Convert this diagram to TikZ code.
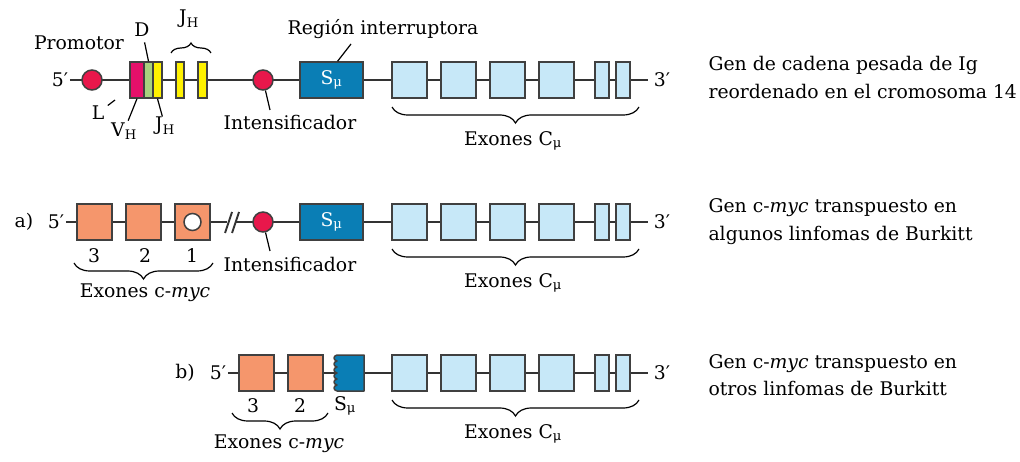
\documentclass[tikz,border=0pt]{standalone}
\usepackage{fontspec}
\setmainfont{DejaVu Serif}
\usetikzlibrary{decorations.pathreplacing}

\definecolor{promred}{HTML}{E8174B}
\definecolor{vhpink}{HTML}{E5106A}
\definecolor{dgreen}{HTML}{A8D17E}
\definecolor{jyellow}{HTML}{FFF200}
\definecolor{sblue}{HTML}{0A7EB5}
\definecolor{cblue}{HTML}{C7E8F8}
\definecolor{mycorange}{HTML}{F5966C}

\begin{document}
\begin{tikzpicture}[x=1pt,y=-1pt,
        font=\fontsize{18.8}{22}\selectfont,
        backbone/.style={line width=1.9pt,draw=black!80},
        gbox/.style={rectangle,draw=black!75,line width=1.5pt,inner sep=0pt,minimum height=36pt},
        cexon/.style={gbox,fill=cblue,minimum width=35pt},
        mexon/.style={gbox,fill=mycorange,minimum width=35pt},
        sbox/.style={gbox,fill=sblue,text=white,minimum width=63pt},
        bead/.style={circle,draw=black!75,line width=1.5pt,fill=promred,minimum size=20pt,inner sep=0pt},
        lead/.style={line width=1.2pt},
        brc/.style={decorate,line width=1.2pt,decoration={brace,amplitude=#1}},
        endlab/.style={inner sep=1.5pt}]
    \useasboundingbox (0,0) rectangle (1020,462);

    % reordenado
    \node[endlab] (p5a) at (60,80) {5′};
    \node[endlab,inner sep=6pt] (p3a) at (662,80) {3′};
    \draw[backbone] (p5a) -- (p3a);
    \node[bead] (prom) at (92,80) {};
    \node[gbox,fill=vhpink,minimum width=14pt] (vh) at (137,80) {};
    \node[gbox,fill=dgreen,minimum width=9pt] (dseg) at (148.5,80) {};
    \node[gbox,fill=jyellow,minimum width=9pt] (jh1) at (157.5,80) {};
    \node[gbox,fill=jyellow,minimum width=8pt] (jh2) at (180,80) {};
    \node[gbox,fill=jyellow,minimum width=9pt] (jh3) at (202.5,80) {};
    \node[bead] (enh1) at (263,80) {};
    \node[sbox] (smu1) at (331.5,80) {S\textsubscript{μ}};

    \node (promlab) at (79,43) {Promotor};
    \node (dlab) at (142,30) {D};
    \node (jhtop) at (189,19) {J\textsubscript{H}};
    \node (llab) at (98,113) {L};
    \node (vhlab) at (124,131) {V\textsubscript{H}};
    \node (jhlab) at (165,126) {J\textsubscript{H}};
    \node (intens1) at (290,122) {Intensificador};
    \node (reglab) at (383,29) {Región interruptora};

    \coordinate (lend) at (115,100);
    \coordinate (enh1e) at (270,110);
    \coordinate (regend) at (351,44);
    \coordinate (jbl) at (171,53);
    \coordinate (jbr) at (211,53);
    \draw[lead,shorten <=2pt] (dlab) -- (dseg.north);
    \draw[lead] (llab) -- (lend);
    \draw[lead,shorten <=-2pt] (vhlab) -- (vh.south);
    \draw[lead,shorten <=-3pt] (jhlab) -- (jh1.south);
    \draw[lead] (enh1) -- (enh1e);
    \draw[lead] (smu1.72) -- (regend);
    \draw[brc=10] (jbl) -- (jbr);

    \node[anchor=base west] (gen1a) at (705,71) {Gen de cadena pesada de Ig};
    \node[anchor=base west] (gen1b) at (705,99) {reordenado en el cromosoma 14};

    % translocacion a)
    \node (rowa) at (24,222) {a)};
    \node[endlab] (p5b) at (56,222) {5′};
    \node[endlab,inner sep=6pt] (p3b) at (662,222) {3′};
    \coordinate (brk1) at (227,222);
    \coordinate (brk2) at (236,222);
    \draw[backbone] (p5b) -- (brk1);
    \draw[backbone] (brk2) -- (p3b);
    \draw[backbone] (brk1) ++(-2,11) -- ++(7,-21);
    \draw[backbone] (brk2) ++(-4,11) -- ++(7,-21);
    \node[mexon] (myc3a) at (94.5,222) {};
    \node[mexon] (myc2a) at (143.5,222) {};
    \node[mexon] (myc1a) at (192.5,222) {};
    \node[circle,draw=black!75,line width=1.5pt,fill=white,minimum size=17pt,inner sep=0pt] (myc1w) at (192.5,222) {};
    \node[bead] (enh2) at (263,222) {};
    \node[sbox] (smu2) at (331.5,222) {S\textsubscript{μ}};

    \node (n3a) at (94,256) {3};
    \node (n2a) at (145,256) {2};
    \node (n1a) at (192,256) {1};
    \node (intens2) at (290,264) {Intensificador};
    \coordinate (enh2e) at (270,251);
    \draw[lead] (enh2) -- (enh2e);
    \coordinate (mbla) at (74,263);
    \coordinate (mbra) at (213,263);
    \draw[brc=16,decoration={mirror}] (mbla) -- (mbra);
    \node (myclaba) at (145,293) {Exones c-\textit{myc}};

    \node[anchor=base west] (gen2a) at (705,213) {Gen c-\textit{myc} transpuesto en};
    \node[anchor=base west] (gen2b) at (705,241) {algunos linfomas de Burkitt};

    % translocacion b)
    \node (rowb) at (185,373) {b)};
    \node[endlab] (p5c) at (218,373) {5′};
    \node[endlab,inner sep=6pt] (p3c) at (662,373) {3′};
    \draw[backbone] (p5c) -- (p3c);
    \node[mexon] (myc3b) at (256.5,373) {};
    \node[mexon] (myc2b) at (305.5,373) {};
    \filldraw[fill=sblue,draw=black!75,line width=1.5pt,line join=round]
        (364,355) -- (364,391) -- (337,391)
        \foreach \k in {0,...,5} { .. controls (333,{390-6*\k}) and (333,{386-6*\k}) .. (337,{385-6*\k}) }
        -- cycle;
    \node (n3b) at (253,406) {3};
    \node (n2b) at (300,406) {2};
    \node (smulab) at (345,406) {S\textsubscript{μ}};
    \coordinate (mblb) at (232,413);
    \coordinate (mbrb) at (328,413);
    \draw[brc=16,decoration={mirror}] (mblb) -- (mbrb);
    \node (myclabb) at (279,444) {Exones c-\textit{myc}};

    \node[anchor=base west] (gen3a) at (705,368) {Gen c-\textit{myc} transpuesto en};
    \node[anchor=base west] (gen3b) at (705,395) {otros linfomas de Burkitt};

    % exones C mu
    \foreach \r/\y in {1/80,2/222,3/373} {
        \node[cexon] (c\r a) at (409.5,\y) {};
        \node[cexon] (c\r b) at (458.5,\y) {};
        \node[cexon] (c\r c) at (507.5,\y) {};
        \node[cexon] (c\r d) at (556.5,\y) {};
        \node[cexon,minimum width=14pt] (c\r e) at (602,\y) {};
        \node[cexon,minimum width=14pt] (c\r f) at (623,\y) {};
        \coordinate (cbl\r) at (392,\y+27);
        \coordinate (cbr\r) at (639,\y+27);
        \draw[brc=16,decoration={mirror}] (cbl\r) -- (cbr\r);
        \node (clab\r) at (513,\y+61) {Exones C\textsubscript{μ}};
    }
\end{tikzpicture}
\end{document}
